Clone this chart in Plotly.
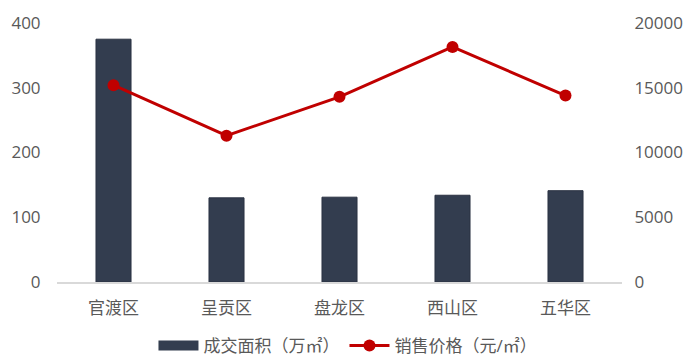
import plotly.graph_objects as go

categories = ["官渡区", "呈贡区", "盘龙区", "西山区", "五华区"]
area = [375, 130, 131, 134, 141]
price = [15200, 11300, 14300, 18150, 14400]
left_ticks = [0, 100, 200, 300, 400]
right_ticks = [0, 5000, 10000, 15000, 20000]
right_tick_text = ["0", "5000", "10000", "15000", "20000"]

font_family = "Open Sans, Noto Sans CJK SC, sans-serif"
tick_color = "#595959"
bar_color = "#333d4f"
line_color = "#c00000"

fig = go.Figure()
fig.add_trace(go.Bar(
    x=categories, y=area, name="成交面积（万㎡）", showlegend=False,
    marker=dict(color=bar_color, line=dict(color="#2a3242", width=1)),
    width=0.31,
))
fig.add_trace(go.Scatter(
    x=[None], y=[None], name="成交面积（万㎡）", mode="lines",
    line=dict(color=bar_color, width=10),
))
fig.add_trace(go.Scatter(
    x=categories, y=price, name="销售价格（元/㎡）", yaxis="y2",
    mode="lines+markers",
    line=dict(color=line_color, width=3),
    marker=dict(color=line_color, size=12),
))

fig.update_layout(
    width=700, height=364,
    margin=dict(l=57, r=78, t=23, b=82, autoexpand=False),
    paper_bgcolor="white", plot_bgcolor="white",
    font=dict(family=font_family, size=17, color=tick_color),
    showlegend=True,
    legend=dict(orientation="h", x=0.515, xanchor="center",
                yref="container", y=0.0, yanchor="bottom",
                font=dict(size=17, color=tick_color), itemwidth=40),
    xaxis=dict(showgrid=False, showline=True, linecolor="#d9d9d9", linewidth=2,
               ticks="outside", ticklen=10, tickcolor="white",
               tickfont=dict(size=17, color=tick_color)),
    yaxis=dict(range=[0, 400], tickvals=left_ticks, showgrid=False, zeroline=False,
               showline=False, ticks="outside", ticklen=12, tickcolor="white",
               tickfont=dict(size=17, color=tick_color)),
    yaxis2=dict(range=[0, 20000], tickvals=right_ticks, ticktext=right_tick_text,
                overlaying="y", side="right",
                showgrid=False, zeroline=False, showline=False,
                ticks="outside", ticklen=8, tickcolor="white",
                tickfont=dict(size=17, color=tick_color)),
)

fig.write_html("out.html")
